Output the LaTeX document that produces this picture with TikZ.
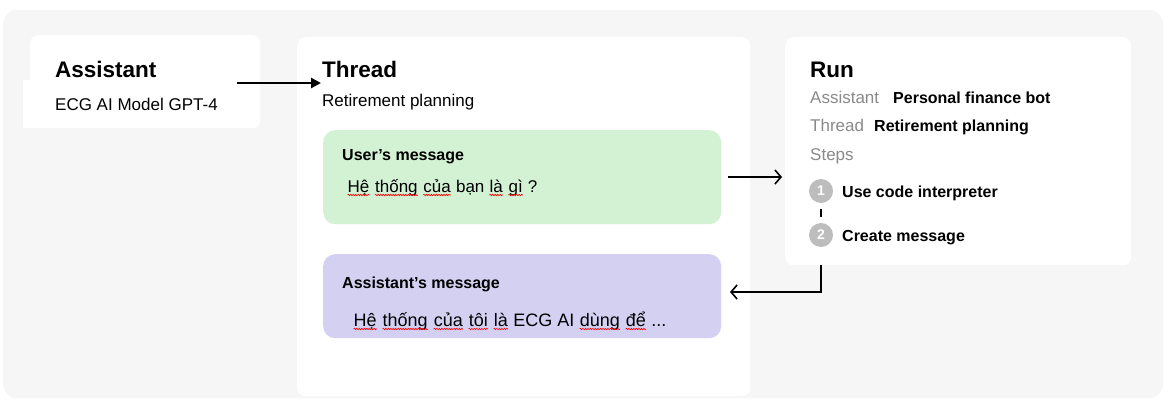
\documentclass[tikz,border=0pt]{standalone}
\usepackage{fontspec}
\setmainfont{Liberation Sans}
\usetikzlibrary{arrows.meta,decorations.pathmorphing}
\definecolor{panelgray}{HTML}{F6F6F6}
\definecolor{usergreen}{HTML}{D3F2D4}
\definecolor{asstlav}{HTML}{D4D0F2}
\definecolor{labelgray}{HTML}{8A8A8A}
\definecolor{stepgray}{HTML}{BDBDBD}
\newcommand{\spl}[1]{\tikz[baseline=(w.base), x=1pt, y=1pt]{\node[inner sep=0pt, anchor=base] (w) {#1};
  \draw[red, line width=0.6pt, decorate, decoration={snake, amplitude=0.7pt, segment length=2.5pt}] ([yshift=-3pt]w.base west) -- ([yshift=-3pt]w.base east);}}
\tikzset{
  card/.style={fill=white, rounded corners=8pt, anchor=north west, inner sep=0pt},
  msgbox/.style={rounded corners=12pt, anchor=north west, inner sep=0pt, minimum width=398pt},
  title/.style={anchor=base west, inner sep=0pt, font=\fontsize{22.5}{27}\selectfont\bfseries},
  sub/.style={anchor=base west, inner sep=0pt, font=\fontsize{17}{20}\selectfont},
  msgtitle/.style={anchor=base west, inner sep=0pt, font=\fontsize{16}{19}\selectfont\bfseries},
  graylabel/.style={anchor=base west, inner sep=0pt, text=labelgray, font=\fontsize{17}{20}\selectfont},
  boldval/.style={anchor=base west, inner sep=0pt, font=\fontsize{16}{19}\selectfont\bfseries},
  stepnum/.style={circle, fill=stepgray, minimum size=24pt, inner sep=0pt, text=white, font=\fontsize{14}{16}\selectfont\bfseries},
  bigarrow/.style={line width=2.6pt, -{Triangle[length=10pt,width=10pt]}},
  thinarrow/.style={line width=1.6pt, -{Straight Barb[length=6pt,width=14pt]}},
}
\begin{document}
\begin{tikzpicture}[x=1pt, y=-1pt]
\useasboundingbox (0,0) rectangle (1173,402);
\fill[white] (0,0) rectangle (1173,402);
% outer panel
\fill[panelgray, rounded corners=14pt] (3,10) rectangle (1163,398);
% cards
\node[card, minimum width=230pt, minimum height=93pt] (asstcard) at (30,35) {};
\fill[white] (23,80) rectangle (250,128);
\node[card, minimum width=453pt, minimum height=359pt] (threadcard) at (297,37) {};
\node[card, minimum width=346pt, minimum height=228pt] (runcard) at (785,37) {};
% assistant
\node[title] (asstT) at (55,77) {Assistant};
\node[sub] (asstS) at (55,110) {ECG AI Model GPT-4};
% thread
\node[title] (threadT) at (322,77) {Thread};
\node[sub] (threadS) at (322,106) {Retirement planning};
\node[msgbox, fill=usergreen, minimum height=94pt] (usermsg) at (323,130) {};
\node[msgtitle] (userT) at (342,160) {User’s message};
\node[sub] (userS) at (347,192) {\spl{Hệ} \spl{thống} \spl{của} bạn \spl{là} \spl{gì} ?};
\node[msgbox, fill=asstlav, minimum height=84pt] (asstmsg) at (323,254) {};
\node[msgtitle] (amsgT) at (342,288) {Assistant’s message};
\node[sub, font=\fontsize{18}{21}\selectfont] (amsgS) at (353,326) {\spl{Hệ} \spl{thống} \spl{của} \spl{tôi} \spl{là} ECG AI \spl{dùng} \spl{để} ...};
% run
\node[title] (runT) at (810,77) {Run};
\node[graylabel] (runA) at (810,103) {Assistant};
\node[boldval] (runAv) at (893,103) {Personal finance bot};
\node[graylabel] (runTh) at (810,131) {Thread};
\node[boldval] (runThv) at (874,131) {Retirement planning};
\node[graylabel] (runSt) at (810,160) {Steps};
\node[stepnum] (s1) at (821,191) {1};
\node[boldval] (s1t) at (842,197) {Use code interpreter};
\node[stepnum] (s2) at (821,235) {2};
\node[boldval] (s2t) at (842,241) {Create message};
\draw[line width=2.5pt] (s1.south) ++(0,6) -- ++(0,8);
% arrows
\coordinate (a1s) at (237,83);
\coordinate (a1e) at (321,83);
\draw[bigarrow] (a1s) -- (a1e);
\coordinate (a2s) at (728,177);
\coordinate (a2e) at (782,177);
\draw[thinarrow] (a2s) -- (a2e);
\coordinate (a3s) at (821,265);
\coordinate (a3e) at (730,292);
\draw[thinarrow] (a3s) |- (a3e);
\end{tikzpicture}
\end{document}
